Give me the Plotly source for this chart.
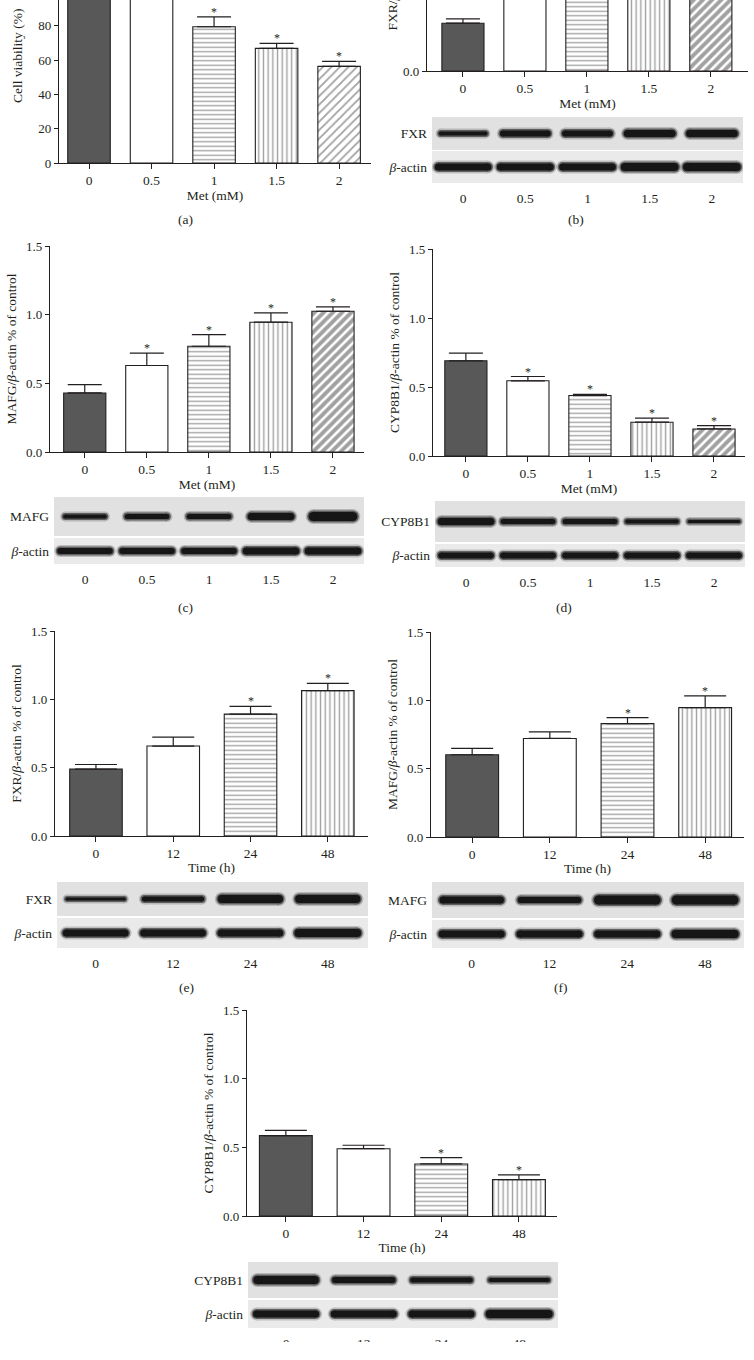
import plotly.graph_objects as go

W, H = 754, 1360
SERIF = "Liberation Serif, Times New Roman, serif"
INK = "#231f20"

MET_MM = ["0", "0.5", "1", "1.5", "2"]
TIME_H = ["0", "12", "24", "48"]

# (a) cell viability (%) after Met treatment
viability = [100, 100, 79.4, 66.8, 56.3]
viability_err = [3.0, 3.0, 5.8, 2.9, 2.9]
viability_sig = [False, False, True, True, True]

# (b) FXR/β-actin vs Met dose (upper part is cropped in the source)
fxr_met = [0.33, 0.62, 0.78, 0.90, 1.00]
fxr_met_err = [0.03, 0.05, 0.05, 0.06, 0.06]
fxr_met_sig = [False, True, True, True, True]

# (c) MAFG/β-actin vs Met dose
mafg_met = [0.43, 0.63, 0.77, 0.945, 1.025]
mafg_met_err = [0.06, 0.09, 0.085, 0.068, 0.032]
mafg_met_sig = [False, True, True, True, True]

# (d) CYP8B1/β-actin vs Met dose
cyp_met = [0.69, 0.545, 0.438, 0.245, 0.196]
cyp_met_err = [0.055, 0.031, 0.008, 0.029, 0.024]
cyp_met_sig = [False, True, True, True, True]

# (e) FXR/β-actin vs time
fxr_time = [0.489, 0.658, 0.892, 1.064]
fxr_time_err = [0.034, 0.066, 0.057, 0.053]
fxr_time_sig = [False, False, True, True]

# (f) MAFG/β-actin vs time
mafg_time = [0.602, 0.721, 0.830, 0.947]
mafg_time_err = [0.046, 0.048, 0.044, 0.085]
mafg_time_sig = [False, False, True, True]

# (g) CYP8B1/β-actin vs time
cyp_time = [0.585, 0.49, 0.379, 0.265]
cyp_time_err = [0.039, 0.025, 0.046, 0.035]
cyp_time_sig = [False, False, True, True]

# western blot band strength (band thickness in px) per lane
band_fxr_met = [5, 7, 7, 8, 8]
band_actin_b = [8, 8, 8, 9, 9]
band_mafg_met = [5, 6, 6, 8, 10]
band_actin_c = [7, 7, 7, 8, 8]
band_cyp_met = [8, 6, 6, 5, 4]
band_actin_d = [7, 7, 7, 7, 7]
band_fxr_time = [4, 6, 9, 9]
band_actin_e = [8, 8, 8, 9]
band_mafg_time = [8, 7, 10, 10]
band_actin_f = [8, 8, 8, 9]
band_cyp_time = [9, 7, 6, 5]
band_actin_g = [8, 8, 8, 9]

BETA_ACTIN = "<i>β</i>-actin"

fig = go.Figure()
axes = {}
shapes = []
notes = []
_n = [0]


def new_axes():
    _n[0] += 1
    s = "" if _n[0] == 1 else str(_n[0])
    return "xaxis" + s, "yaxis" + s, "x" + s, "y" + s


def dom_x(l, r):
    return [l / W, r / W]


def dom_y(t, b):
    return [1 - b / H, 1 - t / H]


def bar_panel(cats, means, errs, sig, box, xr, yr, dtick, ytitle, xtitle,
              diag=(6.5, 0.6), fmt=".1f"):
    xa, ya, xid, yid = new_axes()
    l, t, r, b = box
    n = len(cats)
    fig.add_trace(go.Bar(
        x=cats, y=means, width=0.68, xaxis=xid, yaxis=yid, showlegend=False,
        marker=dict(
            color=["#585858", "white", "white", "white", "white"][:n],
            line=dict(color=INK, width=1.1),
            pattern=dict(shape=["", "", "-", "|", "/"][:n], fgcolor="#000",
                         bgcolor="white",
                         size=[8, 8, 4.5, 4.7, diag[0]][:n],
                         solidity=[0.2, 0.2, 0.3, 0.3, diag[1]][:n])),
        error_y=dict(type="data", symmetric=False, array=errs,
                     arrayminus=[0] * n, color=INK, thickness=1.2,
                     width=17 if n == 5 else 21),
    ))
    for i, (m, e, s) in enumerate(zip(means, errs, sig)):
        if s:
            notes.append(dict(xref=xid, yref=yid, x=i, y=m + e, text="*",
                              showarrow=False, yshift=5,
                              font=dict(size=12, family=SERIF, color=INK)))
    axes[xa] = dict(domain=dom_x(l, r), anchor=yid, type="category",
                    range=xr, showline=True, linecolor=INK, linewidth=1.2,
                    ticks="outside", ticklen=5, tickcolor=INK, tickwidth=1.1,
                    tickfont=dict(size=13.5), showgrid=False, zeroline=False,
                    automargin=False,
                    title=dict(text=xtitle, font=dict(size=13.5), standoff=2))
    axes[ya] = dict(domain=dom_y(t, b), anchor=xid, range=yr, dtick=dtick,
                    tick0=0, tickformat=fmt, showline=True, linecolor=INK,
                    linewidth=1.2, ticks="outside", ticklen=4, tickcolor=INK,
                    tickwidth=1.1, tickfont=dict(size=13), showgrid=False,
                    zeroline=False, automargin=False,
                    title=dict(text=ytitle, font=dict(size=13.5), standoff=6)
                    if ytitle else None)


def blot_row(cats, name, bands, lr, tb, xr, hw, bg, lanes_shown):
    xa, ya, xid, yid = new_axes()
    for i, th in enumerate(bands):
        for extra, op in ((5, 0.2), (2, 0.55), (-1, 1.0)):
            fig.add_trace(go.Scatter(
                x=[i - hw, i + hw], y=[0, 0], mode="lines+markers",
                xaxis=xid, yaxis=yid, showlegend=False, hoverinfo="skip",
                opacity=op,
                line=dict(color="#161616", width=th + extra),
                marker=dict(color="#161616", size=th + extra)))
    shapes.append(dict(type="rect", xref=xid + " domain", yref=yid + " domain",
                       x0=0, x1=1, y0=0, y1=1, fillcolor=bg,
                       line=dict(width=0), layer="below"))
    axes[xa] = dict(domain=dom_x(*lr), anchor=yid, range=xr,
                    tickvals=list(range(len(cats))), ticktext=cats,
                    showticklabels=lanes_shown, ticks="", showline=False,
                    showgrid=False, zeroline=False, tickfont=dict(size=13.5),
                    ticklabelstandoff=5, automargin=False)
    axes[ya] = dict(domain=dom_y(*tb), anchor=xid, range=[-1, 1],
                    tickvals=[0], ticktext=[name], ticks="", showline=False,
                    showgrid=False, zeroline=False, tickfont=dict(size=13.5),
                    ticklabelstandoff=4, automargin=False)


def blot(cats, name, target, actin, lr, top_tb, bot_tb, xr, hw_t=0.36, hw_a=0.4):
    blot_row(cats, name, target, lr, top_tb, xr, hw_t, "#e1e1e1", False)
    blot_row(cats, BETA_ACTIN, actin, lr, bot_tb, xr, hw_a, "#eaeaea", True)


def label(text, x, y):
    notes.append(dict(xref="paper", yref="paper", x=x / W, y=1 - y / H,
                      text=text, showarrow=False, xanchor="center",
                      yanchor="middle", font=dict(size=13.5)))


# (a)
bar_panel(MET_MM, viability, viability_err, viability_sig,
          (59, 0, 371, 163), [-0.48, 4.51], [0, 95], 20, None, "Met (mM)",
          diag=(6, 0.3), fmt="d")
notes.append(dict(xref="paper", yref="paper", x=18 / W, y=1 - 56 / H,
                  text="Cell viability (%)", textangle=-90, showarrow=False,
                  xanchor="center", yanchor="middle", font=dict(size=13.5)))
label("(a)", 185, 220)

# (b)
bar_panel(MET_MM, fxr_met, fxr_met_err, fxr_met_sig,
          (427, 0, 748, 71), [-0.58, 4.6], [0, 0.49], 0.5, None, "Met (mM)")
notes.append(dict(xref="paper", yref="paper", x=392 / W, y=1 - 33 / H,
                  text="FXR/<i>β</i>-actin % of control", textangle=-90,
                  showarrow=False, xanchor="center", yanchor="bottom",
                  font=dict(size=13.5)))
blot(MET_MM, "FXR", band_fxr_met, band_actin_b, (432, 743), (117, 150),
     (151, 183), [-0.5, 4.5])
label("(b)", 576, 220)

# (c)
bar_panel(MET_MM, mafg_met, mafg_met_err, mafg_met_sig,
          (50, 246, 364, 452), [-0.56, 4.5], [0, 1.5], 0.5,
          "MAFG/<i>β</i>-actin % of control", "Met (mM)")
blot(MET_MM, "MAFG", band_mafg_met, band_actin_c, (54, 364), (497, 536),
     (538, 564), [-0.5, 4.5], hw_t=0.32)
label("(c)", 185, 607)

# (d)
bar_panel(MET_MM, cyp_met, cyp_met_err, cyp_met_sig,
          (433, 249, 745, 456), [-0.53, 4.5], [0, 1.5], 0.5,
          "CYP8B1/<i>β</i>-actin % of control", "Met (mM)")
blot(MET_MM, "CYP8B1", band_cyp_met, band_actin_d, (435, 745), (501, 542),
     (544, 567), [-0.5, 4.5], hw_t=0.4)
label("(d)", 564, 607)

# (e)
bar_panel(TIME_H, fxr_time, fxr_time_err, fxr_time_sig,
          (55, 631, 368, 836), [-0.53, 3.52], [0, 1.5], 0.5,
          "FXR/<i>β</i>-actin % of control", "Time (h)")
blot(TIME_H, "FXR", band_fxr_time, band_actin_e, (57, 368), (882, 916),
     (918, 948), [-0.5, 3.52], hw_t=0.37, hw_a=0.38)
label("(e)", 186, 987)

# (f)
bar_panel(TIME_H, mafg_time, mafg_time_err, mafg_time_sig,
          (431, 632, 744, 837), [-0.53, 3.5], [0, 1.5], 0.5,
          "MAFG/<i>β</i>-actin % of control", "Time (h)")
blot(TIME_H, "MAFG", band_mafg_time, band_actin_f, (432, 744), (882, 918),
     (920, 948), [-0.51, 3.5], hw_t=0.37, hw_a=0.38)
label("(f)", 561, 987)

# (g)
bar_panel(TIME_H, cyp_time, cyp_time_err, cyp_time_sig,
          (247, 1010, 557, 1216), [-0.5, 3.49], [0, 1.5], 0.5,
          "CYP8B1/<i>β</i>-actin % of control", "Time (h)")
blot(TIME_H, "CYP8B1", band_cyp_time, band_actin_g, (248, 558), (1262, 1298),
     (1300, 1328), [-0.49, 3.5], hw_t=0.37, hw_a=0.38)

# the source image is cut just below the last lane labels
shapes.append(dict(type="rect", xref="paper", yref="paper", x0=0, x1=1,
                   y0=0, y1=(H - 1342) / H, fillcolor="white",
                   line=dict(width=0), layer="above"))

fig.update_layout(
    width=W, height=H, margin=dict(l=0, r=0, t=0, b=0),
    paper_bgcolor="white", plot_bgcolor="white",
    font=dict(family=SERIF, color=INK, size=13),
    showlegend=False, shapes=shapes, annotations=notes, **axes)

# drop the browser's default 8px body margin so the figure sits at (0, 0)
fig.write_html("out.html", config={"displayModeBar": False},
               post_script="document.body.style.margin = '0';")
